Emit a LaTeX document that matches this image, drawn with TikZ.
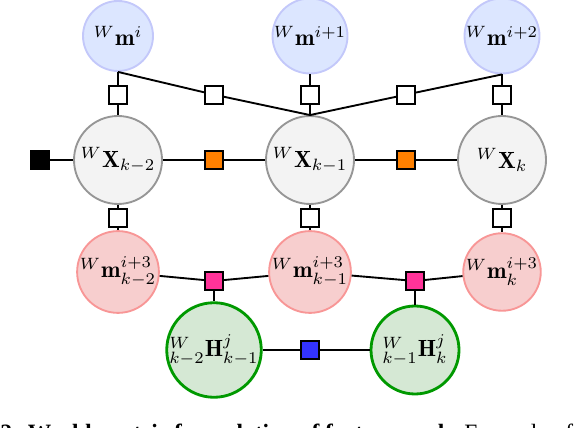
\documentclass[tikz,border=0pt]{standalone}
\usepackage{amsmath, amssymb}
\usepackage{fontspec}
\usepackage{xcolor}
\usepackage{tikz}
\usetikzlibrary{shapes.geometric, positioning}
\newfontfamily\capfont{Liberation Serif}
\definecolor{lmkblue}{RGB}{220,230,255}
\definecolor{lmkblueline}{RGB}{195,200,250}
\definecolor{posegray}{RGB}{243,243,243}
\definecolor{poseline}{RGB}{150,150,150}
\definecolor{obspink}{RGB}{247,206,206}
\definecolor{obsline}{RGB}{248,150,150}
\definecolor{hgreen}{RGB}{213,232,212}
\definecolor{hline}{RGB}{0,153,0}
\definecolor{faccorange}{RGB}{255,128,0}
\definecolor{facpink}{RGB}{255,51,153}
\definecolor{facblue}{RGB}{51,51,255}

\begin{document}
\begin{tikzpicture}[
    lmk/.style={circle, draw=lmkblueline, fill=lmkblue, line width=0.8pt, minimum size=1.05cm, inner sep=0pt},
    pose/.style={circle, draw=poseline, fill=posegray, line width=0.8pt, minimum size=1.32cm, inner sep=0pt},
    obs/.style={circle, draw=obsline, fill=obspink, line width=0.8pt, minimum size=1.05cm, inner sep=0pt},
    hom/.style={circle, draw=hline, fill=hgreen, line width=1.2pt, minimum size=1.32cm, inner sep=0pt},
    fac/.style={rectangle, draw=black, fill=white, line width=0.8pt, minimum size=0.27cm, inner sep=0pt},
    edge/.style={line width=0.8pt, black}
]
\useasboundingbox (0,0) rectangle (8.67,-6.42);

\node[lmk] (ma) at (1.77, -0.54) {${}^{W}\mathbf{m}^{i}$};
\node[lmk] (mb) at (4.65, -0.54) {${}^{W}\mathbf{m}^{i+1}$};
\node[lmk] (mc) at (7.53, -0.54) {${}^{W}\mathbf{m}^{i+2}$};

\node[pose] (xa) at (1.77, -2.4) {${}^{W}\mathbf{X}_{k-2}$};
\node[pose] (xb) at (4.65, -2.4) {${}^{W}\mathbf{X}_{k-1}$};
\node[pose] (xc) at (7.53, -2.4) {${}^{W}\mathbf{X}_{k}$};

\node[obs] (oa) at (1.77, -4.08) {${}^{W}\mathbf{m}^{i+3}_{k-2}$};
\node[obs] (ob) at (4.65, -4.08) {${}^{W}\mathbf{m}^{i+3}_{k-1}$};
\node[obs] (oc) at (7.53, -4.08) {${}^{W}\mathbf{m}^{i+3}_{k}$};

\node[hom] (ha) at (3.21, -5.25) {${}^{W}_{k-2}\mathbf{H}^{j}_{k-1}$};
\node[hom] (hb) at (6.225, -5.25) {${}^{W}_{k-1}\mathbf{H}^{j}_{k}$};

% factors
\node[fac] (fma) at (1.77, -1.42) {};
\node[fac] (fmb) at (4.65, -1.42) {};
\node[fac] (fmc) at (7.53, -1.42) {};
\node[fac] (fab) at (3.21, -1.42) {};
\node[fac] (fcb) at (6.09, -1.42) {};
\node[fac, fill=black] (prior) at (0.6, -2.4) {};
\node[fac, fill=faccorange] (oda) at (3.21, -2.4) {};
\node[fac, fill=faccorange] (odb) at (6.09, -2.4) {};
\node[fac] (foa) at (1.77, -3.27) {};
\node[fac] (fob) at (4.65, -3.27) {};
\node[fac] (foc) at (7.53, -3.27) {};
\node[fac, fill=facpink] (pha) at (3.21, -4.215) {};
\node[fac, fill=facpink] (phb) at (6.225, -4.215) {};
\node[fac, fill=facblue] (hh) at (4.65, -5.25) {};

\draw[edge] (prior) -- (xa);
\draw[edge] (xa) -- (oda) -- (xb);
\draw[edge] (xb) -- (odb) -- (xc);
\draw[edge] (ma) -- (fma) -- (xa);
\draw[edge] (mb) -- (fmb) -- (xb);
\draw[edge] (mc) -- (fmc) -- (xc);
\draw[edge] (ma.south) -- (fab) -- (xb.north);
\draw[edge] (mc.south) -- (fcb) -- (xb.north);
\draw[edge] (xa) -- (foa) -- (oa);
\draw[edge] (xb) -- (fob) -- (ob);
\draw[edge] (xc) -- (foc) -- (oc);
\draw[edge] (oa) -- (pha) -- (ob);
\draw[edge] (ob) -- (phb) -- (oc);
\draw[edge] (pha) -- (ha);
\draw[edge] (phb) -- (hb);
\draw[edge] (ha) -- (hh) -- (hb);

\node[anchor=base west, inner sep=0pt, font=\capfont] (cap) at (0.0, -6.6)
    {\textbf{2: World-centric formulation of factor graph.} Example of f};
\end{tikzpicture}
\end{document}
